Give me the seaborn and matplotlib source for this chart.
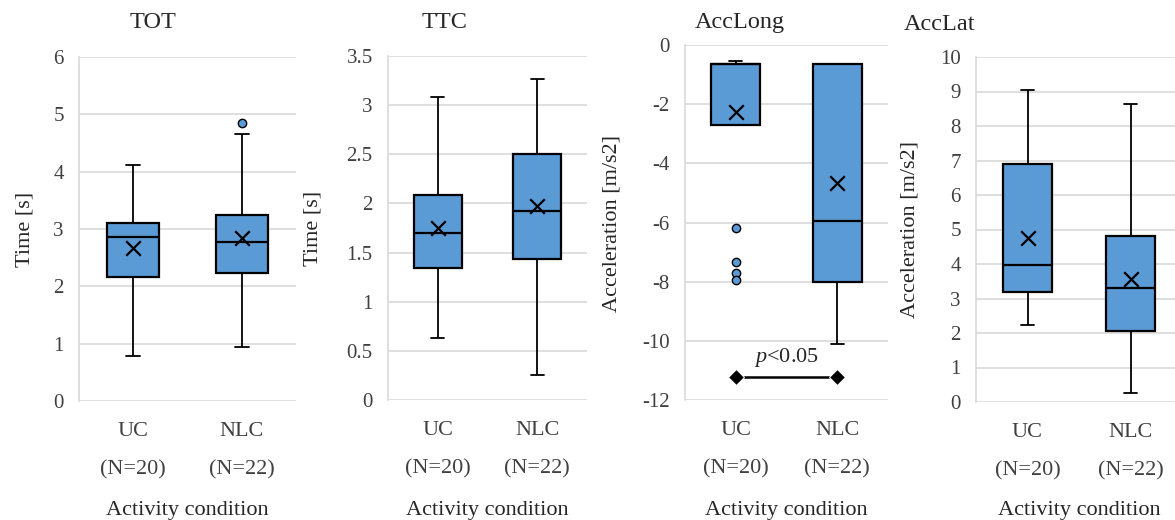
import numpy as np
import pandas as pd
import matplotlib
matplotlib.use("Agg")
import matplotlib.pyplot as plt
import seaborn as sns
from matplotlib import transforms

# ---------------- data ----------------
categories = ["UC", "NLC"]
n_labels = ["(N=20)", "(N=22)"]
titles = ["TOT", "TTC", "AccLong", "AccLat"]
ylabels = ["Time [s]", "Time [s]", "Acceleration [m/s2]", "Acceleration [m/s2]"]
xlabel = "Activity condition"

# five-number summaries: [lower whisker, Q1, median, Q3, upper whisker]
tot_uc = [0.79, 2.17, 2.86, 3.11, 4.11]
tot_nlc = [0.95, 2.24, 2.78, 3.24, 4.66]
ttc_uc = [0.63, 1.34, 1.70, 2.09, 3.08]
ttc_nlc = [0.25, 1.43, 1.92, 2.50, 3.27]
acclong_uc = [-2.69, -2.69, -0.64, -0.64, -0.53]
acclong_nlc = [-10.11, -8.00, -5.94, -0.64, -0.64]
acclat_uc = [2.23, 3.18, 3.96, 6.91, 9.05]
acclat_nlc = [0.26, 2.07, 3.29, 4.80, 8.64]

# means (x markers)
tot_means = [2.66, 2.84]
ttc_means = [1.75, 1.97]
acclong_means = [-2.25, -4.65]
acclat_means = [4.75, 3.56]

# outliers
tot_out_x = ["NLC"]
tot_out_y = [4.85]
acclong_out_x = ["UC", "UC", "UC", "UC"]
acclong_out_y = [-6.18, -7.33, -7.70, -7.94]

# significance bar
sig_x = ["UC", "NLC"]
sig_y = [-11.21, -11.21]
sig_text = "$p$<0.05"

ylims = [(0, 6), (0, 3.5), (-12, 0), (0, 10)]
ysteps = [1, 0.5, 2, 1]

# ---------------- style ----------------
sns.set_theme(style="white")
plt.rcParams["font.family"] = ["Liberation Serif", "DejaVu Serif"]
plt.rcParams["mathtext.fontset"] = "custom"
plt.rcParams["mathtext.rm"] = "Liberation Serif"
plt.rcParams["mathtext.it"] = "Liberation Serif:italic"

W, H = 1175, 520
fig = plt.figure(figsize=(W / 100, H / 100), dpi=100)

# axes rectangles in pixels (left, top, right, bottom)
rects_px = [(79, 57, 296, 401), (388, 56, 587, 400), (685, 45, 888, 400), (976, 57, 1182, 402)]
title_px = [(153, 28), (445, 28), (740, 28), (940, 30)]
ylabel_px = [(25, 229), (313, 228), (612, 223), (910, 230)]

boxes = [(tot_uc, tot_nlc), (ttc_uc, ttc_nlc), (acclong_uc, acclong_nlc), (acclat_uc, acclat_nlc)]
means = [tot_means, ttc_means, acclong_means, acclat_means]
outs = [(tot_out_x, tot_out_y), None, (acclong_out_x, acclong_out_y), None]

BLUE = "#5B9BD5"
GRID = "#D9D9D9"
TXT = "#262626"

for i in range(4):
    l, t, r, b = rects_px[i]
    ax = fig.add_axes([l / W, 1 - b / H, (r - l) / W, (b - t) / H])
    uc, nlc = boxes[i]
    df = pd.DataFrame({
        "condition": [categories[0]] * len(uc) + [categories[1]] * len(nlc),
        "value": list(uc) + list(nlc),
    })
    kws = dict(data=df, x="condition", y="value", order=categories, whis=np.inf,
               width=0.48, color=BLUE, saturation=1, linecolor="black", linewidth=1.4,
               showfliers=False, ax=ax,
               medianprops=dict(color="black", linewidth=1.6),
               whiskerprops=dict(color="black", linewidth=1.3),
               capprops=dict(color="black", linewidth=1.3),
               boxprops=dict(edgecolor="black", linewidth=1.6))
    try:
        sns.boxplot(capwidths=0.13, **kws)
    except Exception:
        ax.cla()
        sns.boxplot(**kws)

    sns.scatterplot(x=categories, y=means[i], marker="x", s=110, color="black",
                    linewidth=1.6, ax=ax, zorder=6, legend=False)
    if outs[i] is not None:
        ox, oy = outs[i]
        sns.scatterplot(x=ox, y=oy, marker="o", s=36, color=BLUE, edgecolor="black",
                        linewidth=1.0, ax=ax, zorder=6, legend=False)
    if i == 2:
        sns.lineplot(x=sig_x, y=sig_y, marker="D", markersize=8, color="black",
                     linewidth=1.8, ax=ax, estimator=None, sort=False, zorder=6, legend=False)
        ax.text(0.5, -10.55, sig_text, ha="center", va="center", fontsize=16, color=TXT)

    lo, hi = ylims[i]
    ax.set_ylim(lo, hi)
    ax.set_xlim(-0.5, 1.5)
    yt = np.arange(lo, hi + ysteps[i] / 2, ysteps[i])
    ax.set_yticks(yt)
    ax.set_yticklabels([f"{v:g}" for v in yt], fontsize=15)
    ax.set_xticks([0, 1])
    ax.set_xticklabels([f"{c}\n{n}" for c, n in zip(categories, n_labels)], fontsize=16)
    for tl in ax.get_xticklabels():
        tl.set_linespacing(2.35)
    ax.tick_params(axis="both", length=0, colors="#404040")
    ax.tick_params(axis="y", pad=11)
    ax.tick_params(axis="x", pad=15)

    ax.yaxis.grid(True, color=GRID, linewidth=1.2)
    ax.xaxis.grid(False)
    ax.set_axisbelow(True)
    for s in ["top", "right", "bottom"]:
        ax.spines[s].set_visible(False)
    ax.spines["left"].set_color(GRID)
    ax.spines["left"].set_linewidth(1.2)
    ax.set_facecolor("white")

    ax.set_ylabel(ylabels[i], fontsize=16, color=TXT, va="center", ha="center")
    ax.yaxis.set_label_coords(ylabel_px[i][0] / W, 1 - ylabel_px[i][1] / H, transform=fig.transFigure)
    ax.set_xlabel(xlabel, fontsize=16, color=TXT, va="baseline")
    ax.xaxis.set_label_coords(0.5, 1 - 515 / H,
                              transform=transforms.blended_transform_factory(ax.transAxes, fig.transFigure))

    fig.text(title_px[i][0] / W, 1 - title_px[i][1] / H, titles[i], ha="center", va="baseline",
             fontsize=17.5, color=TXT)

fig.savefig("out.png", dpi=100)
